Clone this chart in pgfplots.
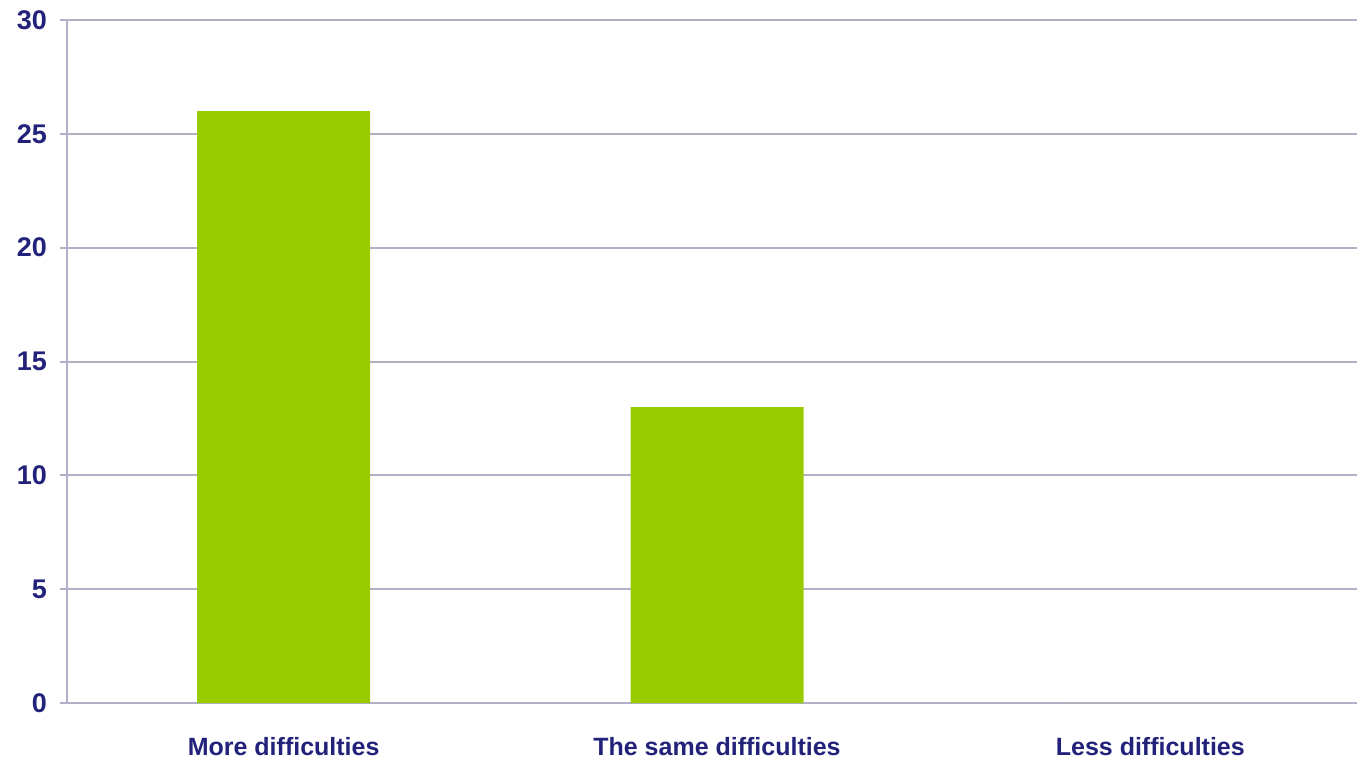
\documentclass[border=0pt]{standalone}
\usepackage{pgfplots}
\pgfplotsset{compat=1.18}
\usepackage{fontspec}
\setmainfont{Liberation Sans}
\definecolor{barg}{HTML}{99CC00}
\definecolor{txt}{HTML}{22227A}
\definecolor{gridc}{HTML}{B0B0C6}
\begin{document}
\begin{tikzpicture}
\useasboundingbox (-33.5bp,-27.5bp) rectangle (645bp,351.5bp);
\begin{axis}[
  at={(0,0)}, anchor=south west,
  scale only axis,
  width=650bp, height=341.5bp,
  xmin=-0.5, xmax=2.5,
  ymin=0, ymax=30,
  ytick={0,5,...,30},
  xtick={0,1,2},
  xticklabels={More difficulties,The same difficulties,Less difficulties},
  x tick style={draw=none},
  extra x ticks={0.5,1.5},
  extra x tick labels={},
  extra x tick style={major tick length=4.5bp, tick align=outside, tick style={draw=gridc, line width=1bp}, grid=none},
  axis x line*=bottom,
  axis y line*=left,
  axis line style={draw=gridc, line width=1bp},
  y tick style={draw=gridc, line width=1bp},
  tick align=outside,
  major tick length=3.5bp,
  ymajorgrids,
  major grid style={draw=gridc, line width=1bp},
  ticklabel style={font=\fontsize{12.5bp}{14bp}\selectfont\bfseries, text=txt},
  /pgf/number format/assume math mode=true,
  yticklabel style={xshift=-3bp, font=\fontsize{13.5bp}{15bp}\selectfont\bfseries},
  xticklabel style={yshift=-10bp},
  bar width=86.5bp,
]
\addplot[ybar, fill=barg, draw=none] coordinates {(0,26) (1,13) (2,0)};
\end{axis}
\end{tikzpicture}
\end{document}
